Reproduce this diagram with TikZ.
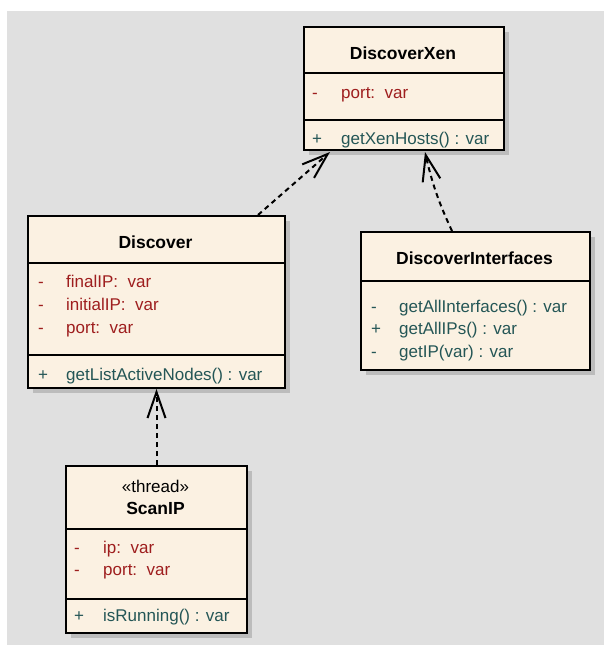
\documentclass[tikz,border=0pt]{standalone}
\usepackage{fontspec}
\setmainfont{Liberation Sans}
\usetikzlibrary{arrows.meta,shadows,calc}
\definecolor{bg}{RGB}{224,224,224}
\definecolor{cream}{RGB}{251,241,226}
\definecolor{attrc}{RGB}{158,30,30}
\definecolor{methc}{RGB}{36,86,86}
\definecolor{shade}{RGB}{188,188,188}
\begin{document}
\begin{tikzpicture}[x=1pt,y=-1pt,
  classbox/.style={draw=black, line width=2pt, fill=cream, anchor=north west, inner sep=0pt,
    drop shadow={shadow xshift=5pt, shadow yshift=-5pt, fill=shade, opacity=1}},
  sepline/.style={draw=black, line width=1.6pt},
  ctitle/.style={font=\fontsize{17.5}{20}\selectfont\bfseries, anchor=base, inner sep=0pt},
  stereo/.style={font=\fontsize{17}{20}\selectfont, anchor=base, inner sep=0pt},
  attr/.style={font=\fontsize{17}{20}\selectfont, text=attrc, anchor=base west, inner sep=0pt},
  meth/.style={font=\fontsize{17}{20}\selectfont, text=methc, anchor=base west, inner sep=0pt},
  dep/.style={draw=black, line width=2pt, dash pattern=on 5pt off 4pt,
    -{Straight Barb[length=26pt,width=18pt,line width=2pt]}}
]
\useasboundingbox (0,0) rectangle (604,645);
\fill[bg] (7,11) rectangle (604,645);

% DiscoverXen
\node[classbox, minimum width=200pt, minimum height=123pt] (xen) at (303,26) {};
\draw[sepline] ($(xen.north west)+(0,47)$) -- ($(xen.north east)+(0,47)$);
\draw[sepline] ($(xen.north west)+(0,94)$) -- ($(xen.north east)+(0,94)$);
\node[ctitle] (xent) at (403,59) {DiscoverXen};
\node[attr] (xena1s) at (312,98) {-};
\node[attr] (xena1) at (341,98) {port:~~var};
\node[meth] (xenm1s) at (312,144) {+};
\node[meth] (xenm1) at (341,144) {getXenHosts() : var};

% Discover
\node[classbox, minimum width=257pt, minimum height=172pt] (disc) at (27,215) {};
\draw[sepline] ($(disc.north west)+(0,48)$) -- ($(disc.north east)+(0,48)$);
\draw[sepline] ($(disc.north west)+(0,140)$) -- ($(disc.north east)+(0,140)$);
\node[ctitle] (disct) at (155.5,248) {Discover};
\node[attr] (disca1s) at (38,287) {-};
\node[attr] (disca1) at (66,287) {finalIP:~~var};
\node[attr] (disca2s) at (38,310) {-};
\node[attr] (disca2) at (66,310) {initialIP:~~var};
\node[attr] (disca3s) at (38,333) {-};
\node[attr] (disca3) at (66,333) {port:~~var};
\node[meth] (discm1s) at (38,380) {+};
\node[meth] (discm1) at (66,380) {getListActiveNodes() : var};

% DiscoverInterfaces
\node[classbox, minimum width=229pt, minimum height=138pt] (intf) at (360,231) {};
\draw[sepline] ($(intf.north west)+(0,50)$) -- ($(intf.north east)+(0,50)$);
\node[ctitle] (intft) at (474.5,264) {DiscoverInterfaces};
\node[meth] (intfm1s) at (371,312) {-};
\node[meth] (intfm1) at (399,312) {getAllInterfaces() : var};
\node[meth] (intfm2s) at (371,334) {+};
\node[meth] (intfm2) at (399,334) {getAllIPs() : var};
\node[meth] (intfm3s) at (371,357) {-};
\node[meth] (intfm3) at (399,357) {getIP(var) : var};

% ScanIP
\node[classbox, minimum width=181pt, minimum height=167pt] (scan) at (65,465) {};
\draw[sepline] ($(scan.north west)+(0,64)$) -- ($(scan.north east)+(0,64)$);
\draw[sepline] ($(scan.north west)+(0,134)$) -- ($(scan.north east)+(0,134)$);
\node[stereo] (scans) at (155.5,492) {«thread»};
\node[ctitle] (scant) at (155.5,514) {ScanIP};
\node[attr] (scana1s) at (74,553) {-};
\node[attr] (scana1) at (103,553) {ip:~~var};
\node[attr] (scana2s) at (74,575) {-};
\node[attr] (scana2) at (103,575) {port:~~var};
\node[meth] (scanm1s) at (74,621) {+};
\node[meth] (scanm1) at (103,621) {isRunning() : var};

% dependencies
\coordinate (d1s) at ($(disc.north west)+(231,0)$);
\coordinate (d1e) at ($(xen.south west)+(27,1)$);
\draw[dep] (d1s) -- (d1e);
\coordinate (d2s) at ($(intf.north west)+(92,0)$);
\coordinate (d2e) at ($(xen.south west)+(122,1)$);
\draw[dep] (d2s) to[bend left=6] (d2e);
\draw[dep] (scan.north) -- (scan.north |- disc.south);
\end{tikzpicture}
\end{document}
